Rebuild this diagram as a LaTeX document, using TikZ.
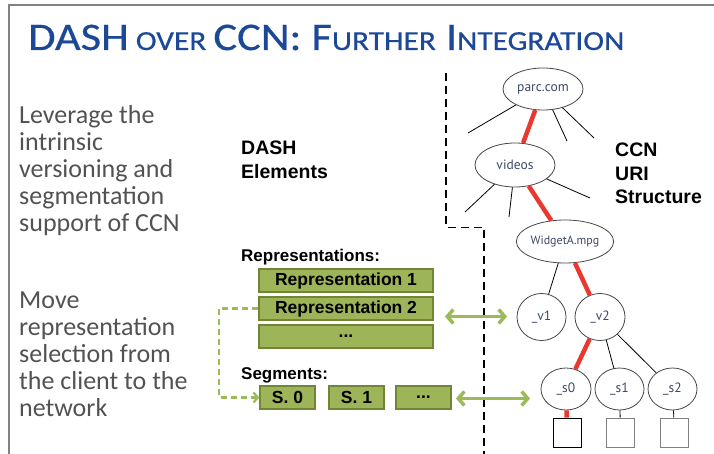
\documentclass[tikz,border=0pt]{standalone}
\usepackage{fontspec}
\setmainfont{Carlito}
\newfontfamily\titlefont{Carlito}[FakeBold=0.5]
\newfontfamily\arialfont{Liberation Sans}
\newfontfamily\treefont{PT Sans}
\usetikzlibrary{arrows.meta,shapes.geometric}

\definecolor{titleblue}{RGB}{28,72,152}
\definecolor{bodygray}{RGB}{82,82,82}
\definecolor{framegray}{RGB}{130,130,130}
\definecolor{olivefill}{RGB}{158,180,88}
\definecolor{olivedraw}{RGB}{112,134,52}
\definecolor{arrowgreen}{RGB}{155,187,89}
\definecolor{pathred}{RGB}{232,56,47}
\definecolor{labelblue}{RGB}{60,72,100}
\definecolor{ringgray}{RGB}{70,70,70}

\newcommand{\titlecap}[1]{{\fontsize{39}{39}\selectfont #1}}
\newcommand{\titlesc}[1]{{\fontsize{27.5}{27.5}\selectfont #1}}

\tikzset{
  bullettext/.style={anchor=base west, inner sep=0pt, text=bodygray,
    font=\fontsize{26}{27}\selectfont},
  headtext/.style={anchor=base west, inner sep=0pt,
    font=\arialfont\bfseries\fontsize{19.5}{20}\selectfont},
  labeltext/.style={anchor=base west, inner sep=0pt,
    font=\arialfont\bfseries\fontsize{17}{17}\selectfont},
  greenbox/.style={draw=olivedraw, fill=olivefill, line width=1.2pt,
    inner sep=0pt, font=\arialfont\bfseries\fontsize{17.5}{17.5}\selectfont},
  treenode/.style={ellipse, draw=ringgray, line width=0.8pt, inner sep=0pt,
    text=labelblue, font=\treefont\fontsize{13.5}{13.5}\selectfont},
  leafbox/.style={draw=ringgray, line width=0.8pt, minimum width=28pt,
    minimum height=29pt, inner sep=0pt},
  redlink/.style={draw=pathred, line width=4.5pt},
  thinlink/.style={draw=black, line width=0.8pt},
  greenarrow/.style={draw=arrowgreen, line width=3.5pt,
    {Straight Barb[length=6pt,width=14pt]}-{Straight Barb[length=6pt,width=14pt]}},
  divider/.style={draw=black, line width=1.8pt, dash pattern=on 8pt off 5pt},
}

\begin{document}
\begin{tikzpicture}[x=1pt,y=-1pt]
\useasboundingbox (0,0) rectangle (714,454);

% slide frame
\draw[framegray, line width=2pt] (9,454) -- (9,5.5) -- (714,5.5);

% title
\node[anchor=base west, inner sep=0pt, text=titleblue, font=\titlefont, xscale=1.14] (title) at (28,50)
  {\titlecap{DASH}\titlesc{ OVER }\titlecap{CCN: F}\titlesc{URTHER}\titlecap{ I}\titlesc{NTEGRATION}};

% bullet text
\node[bullettext] (l1) at (19,124) {Leverage the};
\node[bullettext] (l2) at (19,151) {intrinsic};
\node[bullettext] (l3) at (19,178) {versioning and};
\node[bullettext] (l4) at (19,205) {segmentation};
\node[bullettext] (l5) at (19,232) {support of CCN};
\node[bullettext] (m1) at (19,308) {Move};
\node[bullettext] (m2) at (19,335) {representation};
\node[bullettext] (m3) at (19,362) {selection from};
\node[bullettext] (m4) at (19,389) {the client to the};
\node[bullettext] (m5) at (19,416) {network};

% headings
\node[headtext] (dash1) at (241,155) {DASH};
\node[headtext] (dash2) at (241,179) {Elements};
\node[headtext] (ccn1) at (615,157) {CCN};
\node[headtext] (ccn2) at (615,180.5) {URI};
\node[headtext] (ccn3) at (615,204) {Structure};

% DASH elements
\node[labeltext] (replabel) at (241,261) {Representations:};
\node[greenbox, minimum width=174pt, minimum height=23pt] (rep1) at (346,280.5) {Representation 1};
\node[greenbox, minimum width=174pt, minimum height=23pt] (rep2) at (346,308.5) {Representation 2};
\node[greenbox, minimum width=174pt, minimum height=23pt] (rep3) at (346,336.5) {...};
\node[labeltext] (seglabel) at (241,379) {Segments:};
\node[greenbox, minimum width=55pt, minimum height=23pt] (seg0) at (287.5,397.5) {S. 0};
\node[greenbox, minimum width=55pt, minimum height=23pt] (seg1) at (356.5,397.5) {S. 1};
\node[greenbox, minimum width=55pt, minimum height=23pt] (seg2) at (423.5,397.5) {...};

% selection path from representation to segments
\coordinate (bendtop) at (219,308.5);
\coordinate (bendbot) at (219,397.5);
\draw[draw=arrowgreen, line width=2.2pt, dash pattern=on 6pt off 4pt,
  -{Straight Barb[length=4.5pt,width=10pt]}]
  (rep2.west) -- (bendtop) -- (bendbot) -- (seg0.west);

% divider between DASH and CCN
\coordinate (dtop) at (446,73);
\coordinate (dknee) at (446,227.5);
\coordinate (dknee2) at (484,227.5);
\coordinate (dbot) at (484,454);
\draw[divider] (dtop) -- (dknee) -- (dknee2) -- (dbot);

% CCN name tree
\node[treenode, minimum width=80pt, minimum height=42pt] (parc) at (543,89) {parc.com};
\node[treenode, minimum width=80pt, minimum height=44pt] (videos) at (515,165) {videos};
\node[treenode, minimum width=80pt, minimum height=43pt,
  font=\treefont\fontsize{12}{12}\selectfont] (widget) at (565,241.5) {WidgetA.mpg};
\node[treenode, minimum width=49pt, minimum height=47pt] (v1) at (541.5,317) {\_v1};
\node[treenode, minimum width=50pt, minimum height=47pt] (v2) at (600,317) {\_v2};
\node[treenode, minimum width=50pt, minimum height=42pt] (s0) at (566,389) {\_s0};
\node[treenode, minimum width=49pt, minimum height=42pt] (s1) at (619.5,389) {\_s1};
\node[treenode, minimum width=49pt, minimum height=42pt] (s2) at (672.5,389) {\_s2};
\node[leafbox, draw=black] (b0) at (567,432.5) {};
\node[leafbox, draw=gray] (b1) at (620.5,432.5) {};
\node[leafbox, draw=gray] (b2) at (674.5,432.5) {};

% unnamed sibling branches
\coordinate (pa) at (468,133);
\coordinate (pb) at (567,141);
\coordinate (pc) at (594,138);
\coordinate (va) at (465,212);
\coordinate (vb) at (509,217);
\coordinate (vc) at (590,198);
\draw[thinlink] (parc) -- (pa);
\draw[thinlink] (parc) -- (pb);
\draw[thinlink] (parc) -- (pc);
\draw[thinlink] (videos) -- (va);
\draw[thinlink] (videos) -- (vb);
\draw[thinlink] (videos) -- (vc);

% tree links
\draw[thinlink] (widget) -- (v1);
\draw[thinlink] (v2) -- (s1);
\draw[thinlink] (v2) -- (s2);
\draw[thinlink] (s1) -- (b1);
\draw[thinlink] (s2) -- (b2);
\draw[redlink] (parc) -- (videos);
\draw[redlink] (videos) -- (widget);
\draw[redlink] (widget) -- (v2);
\draw[redlink] (v2) -- (s0);
\draw[redlink] (s0) -- (b0);

% mapping arrows
\coordinate (a1l) at (445,316.5);
\coordinate (a1r) at (507,316.5);
\coordinate (a2l) at (456,398.5);
\coordinate (a2r) at (530,398.5);
\draw[greenarrow] (a1l) -- (a1r);
\draw[greenarrow] (a2l) -- (a2r);
\end{tikzpicture}
\end{document}
